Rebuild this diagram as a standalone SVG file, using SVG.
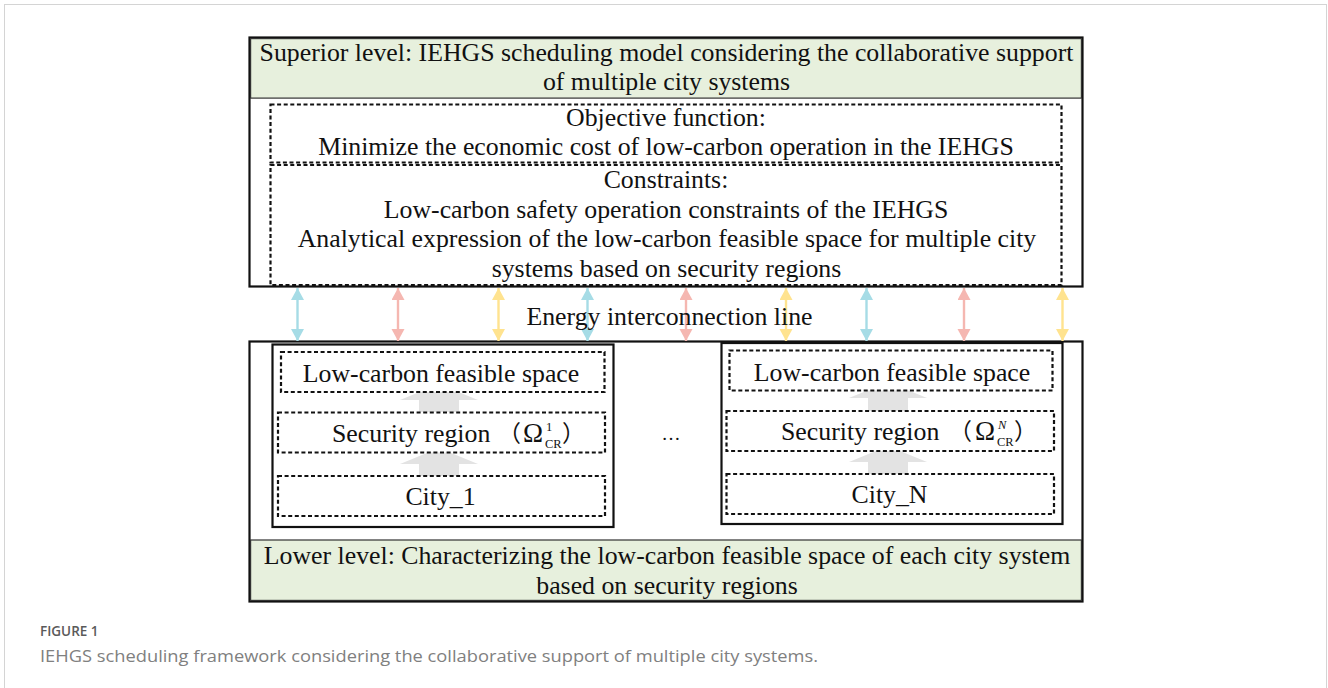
<svg xmlns="http://www.w3.org/2000/svg" width="1328" height="688" viewBox="0 0 1328 688">
  <style>
    .t { font-family: "Liberation Serif", "Times New Roman", serif; font-size: 25.8px; fill: #111; }
    .c { text-anchor: middle; }
    .cjk { font-family: "Noto Sans CJK SC", "Noto Sans CJK JP", sans-serif; font-size: 23px; fill: #111; }
    .solid { fill: #fff; stroke: #111; stroke-width: 2.2; }
    .dash { fill: #fff; stroke: #111; stroke-width: 2.2; stroke-dasharray: 4 2.6; }
    .green { fill: #E7F0DD; stroke: #333; stroke-width: 1.2; }
    .garrow { fill: #E3E3E3; }
    .cap1 { font-family: "Open Sans", "Noto Sans", sans-serif; font-size: 13.5px; font-weight: 600; fill: #5a5a5a; }
    .cap2 { font-family: "Open Sans", "Noto Sans", sans-serif; font-size: 17px; fill: #808080; }
  </style>
  <defs>
    <marker id="mb" markerUnits="userSpaceOnUse" markerWidth="14" markerHeight="14" refX="12" refY="6.5" orient="auto-start-reverse"><path d="M0,0 L12,6.5 L0,13 Z" fill="#A6DCE6"/></marker>
    <marker id="mp" markerUnits="userSpaceOnUse" markerWidth="14" markerHeight="14" refX="12" refY="6.5" orient="auto-start-reverse"><path d="M0,0 L12,6.5 L0,13 Z" fill="#F5B7B1"/></marker>
    <marker id="my" markerUnits="userSpaceOnUse" markerWidth="14" markerHeight="14" refX="12" refY="6.5" orient="auto-start-reverse"><path d="M0,0 L12,6.5 L0,13 Z" fill="#FFE38F"/></marker>
  </defs>

  <rect x="0" y="0" width="1328" height="688" fill="#fff"/>
  <rect x="4.5" y="4.5" width="1322" height="720" fill="none" stroke="#d4d4d4" stroke-width="1"/>

  <g id="superior">
    <rect class="solid" x="249.5" y="37.5" width="833" height="249"/>
    <rect class="green" x="250.6" y="38.6" width="830.8" height="59.5"/>
    <text class="t c" x="666.5" y="61">Superior level: IEHGS scheduling model considering the collaborative support</text>
    <text class="t c" x="666.5" y="90">of multiple city systems</text>
  </g>

  <g id="objective">
    <rect class="dash" x="270.5" y="104.5" width="791" height="58"/>
    <text class="t c" x="666" y="126">Objective function:</text>
    <text class="t c" x="666" y="155">Minimize the economic cost of low-carbon operation in the IEHGS</text>
  </g>

  <g id="constraints">
    <rect class="dash" x="270.5" y="165" width="791" height="120"/>
    <text class="t c" x="666" y="188">Constraints:</text>
    <text class="t c" x="666" y="218">Low-carbon safety operation constraints of the IEHGS</text>
    <text class="t c" x="667" y="247">Analytical expression of the low-carbon feasible space for multiple city</text>
    <text class="t c" x="666.5" y="277">systems based on security regions</text>
  </g>

  <g id="lower">
    <rect class="solid" x="249.5" y="341.5" width="833" height="260"/>
    <rect class="green" x="250.6" y="540" width="830.8" height="60.4"/>
    <text class="t c" x="667" y="564">Lower level: Characterizing the low-carbon feasible space of each city system</text>
    <text class="t c" x="667" y="594">based on security regions</text>
  </g>

  <g id="city1">
    <rect class="solid" x="272.5" y="344.5" width="341" height="182.5"/>
    <polygon class="garrow" points="439,384 478,400 459,400 459,412 419,412 419,400 400,400"/>
    <polygon class="garrow" points="439,448 478,464 459,464 459,476 419,476 419,464 400,464"/>
    <g id="city1-space">
      <rect class="dash" x="281" y="352" width="323.5" height="40"/>
      <text class="t c" x="441" y="382">Low-carbon feasible space</text>
    </g>
    <g id="city1-region">
      <rect class="dash" x="278" y="412.5" width="327" height="40"/>
      <text class="t" x="332" y="442">Security region</text>
      <text class="cjk" x="498" y="442">（</text>
      <text class="t" x="523" y="442" style="font-size:27px">Ω</text>
      <text class="t" x="546" y="431" style="font-size:12.5px">1</text>
      <text class="t" x="545" y="448" style="font-size:12.5px">CR</text>
      <text class="cjk" x="562" y="442">）</text>
    </g>
    <g id="city1-city">
      <rect class="dash" x="278" y="476" width="327" height="40"/>
      <text class="t c" x="440.5" y="505">City_1</text>
    </g>
  </g>

  <g id="ellipsis">
    <text class="t c" x="671" y="440" style="font-size:19px">…</text>
  </g>

  <g id="cityN">
    <rect class="solid" x="721.5" y="343" width="341" height="181"/>
    <polygon class="garrow" points="888,382 927,398 908,398 908,411 868,411 868,398 849,398"/>
    <polygon class="garrow" points="888,446 927,462 908,462 908,474 868,474 868,462 849,462"/>
    <g id="cityN-space">
      <rect class="dash" x="729.5" y="350.5" width="323" height="40"/>
      <text class="t c" x="892" y="381">Low-carbon feasible space</text>
    </g>
    <g id="cityN-region">
      <rect class="dash" x="726.5" y="411" width="327.5" height="40"/>
      <text class="t" x="781" y="440">Security region</text>
      <text class="cjk" x="949" y="440">（</text>
      <text class="t" x="975" y="440" style="font-size:27px">Ω</text>
      <text class="t" x="998" y="429" style="font-size:12.5px;font-style:italic">N</text>
      <text class="t" x="997" y="446" style="font-size:12.5px">CR</text>
      <text class="cjk" x="1014" y="440">）</text>
    </g>
    <g id="cityN-city">
      <rect class="dash" x="726.5" y="474" width="327.5" height="40"/>
      <text class="t c" x="889.5" y="503">City_N</text>
    </g>
  </g>

  <g id="connectors" stroke-width="2.4" fill="none">
    <line x1="297.5" y1="288" x2="297.5" y2="341" stroke="#A6DCE6" marker-start="url(#mb)" marker-end="url(#mb)"/>
    <line x1="398" y1="288" x2="398" y2="341" stroke="#F5B7B1" marker-start="url(#mp)" marker-end="url(#mp)"/>
    <line x1="498.5" y1="288" x2="498.5" y2="341" stroke="#FFE38F" marker-start="url(#my)" marker-end="url(#my)"/>
    <line x1="587.5" y1="288" x2="587.5" y2="341" stroke="#A6DCE6" marker-start="url(#mb)" marker-end="url(#mb)"/>
    <line x1="686" y1="288" x2="686" y2="341" stroke="#F5B7B1" marker-start="url(#mp)" marker-end="url(#mp)"/>
    <line x1="786" y1="288" x2="786" y2="341" stroke="#FFE38F" marker-start="url(#my)" marker-end="url(#my)"/>
    <line x1="866.5" y1="288" x2="866.5" y2="341" stroke="#A6DCE6" marker-start="url(#mb)" marker-end="url(#mb)"/>
    <line x1="964" y1="288" x2="964" y2="341" stroke="#F5B7B1" marker-start="url(#mp)" marker-end="url(#mp)"/>
    <line x1="1062.5" y1="288" x2="1062.5" y2="341" stroke="#FFE38F" marker-start="url(#my)" marker-end="url(#my)"/>
  </g>

  <g id="energy-label">
    <text class="t c" x="669.5" y="325">Energy interconnection line</text>
  </g>

  <g id="caption">
    <text class="cap1" x="40" y="636">FIGURE 1</text>
    <text class="cap2" x="40" y="662" textLength="778" lengthAdjust="spacingAndGlyphs">IEHGS scheduling framework considering the collaborative support of multiple city systems.</text>
  </g>
</svg>
